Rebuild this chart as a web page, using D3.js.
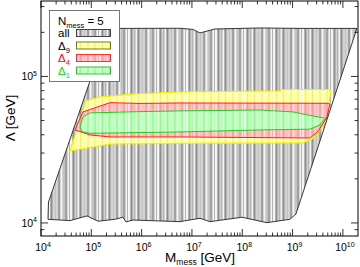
<!DOCTYPE html>
<html>
<head>
<meta charset="utf-8">
<script src="https://cdn.jsdelivr.net/npm/d3@7"></script>
<style>
  html, body { margin: 0; padding: 0; background: #fff; }
  svg { display: block; font-family: "Liberation Sans", Arial, sans-serif; }
</style>
</head>
<body>
<svg id="chart" width="360" height="267"></svg>
<script>
// Region boundaries as [log10(M_mess / GeV), log10(Lambda / GeV)].
const allRegion = [
  [5.321, 5.317], [5.570, 5.328], [6.762, 5.329], [7.020, 5.321], [7.159, 5.297],
  [7.457, 5.324], [8.351, 5.331], [9.146, 5.328], [10.279, 5.328],
  [9.067, 4.061], [8.947, 4.025], [8.490, 4.002], [7.994, 4.039], [7.358, 4.009],
  [7.159, 4.032], [6.762, 4.009], [6.166, 4.016], [5.828, 4.020], [5.689, 4.007],
  [5.629, 4.039], [5.470, 4.025], [5.133, 4.012], [4.914, 4.048], [4.576, 4.016],
  [4.139, 4.025], [4.149, 4.143]
];
const delta9Region = [
  [4.894, 4.833], [5.172, 4.860], [5.868, 4.881], [6.762, 4.894], [8.749, 4.901],
  [8.788, 4.911], [9.742, 4.911], [9.762, 4.894], [9.643, 4.696], [9.504, 4.614],
  [9.384, 4.573], [9.206, 4.546], [6.762, 4.543], [5.371, 4.539], [4.576, 4.491]
];
const delta4Region = [
  [4.676, 4.635], [4.834, 4.758], [5.371, 4.821], [5.967, 4.816], [6.762, 4.819],
  [9.683, 4.817], [9.742, 4.812], [9.683, 4.724], [9.504, 4.623], [9.345, 4.580],
  [6.762, 4.587], [5.371, 4.587], [4.974, 4.601]
];
const delta1Region = [
  [4.775, 4.655], [4.834, 4.724], [4.974, 4.751], [5.967, 4.760], [6.762, 4.765],
  [8.351, 4.771], [9.007, 4.758], [9.404, 4.730], [9.643, 4.715], [9.543, 4.669],
  [9.345, 4.640], [8.351, 4.635], [6.762, 4.621], [4.974, 4.612], [4.815, 4.623]
];

const xDecades = [4, 5, 6, 7, 8, 9, 10];
const yDecades = [4, 5];

const W = 360, H = 267;
const plot = { left: 41, right: 358, top: 1, bottom: 236 };

const x = d3.scaleLog().domain([1e4, 10 ** 10.3]).range([plot.left, plot.right]);
const y = d3.scaleLog().domain([10 ** 3.911, 10 ** 5.515]).range([plot.bottom, plot.top]);

const svg = d3.select('#chart');
const defs = svg.append('defs');

// vertical stripe fills, mimicking the rasterised strips of the original
const stripeW = 29;
const stripeLayout = [
  { dx: 0, w: 2, kind: 'light' }, { dx: 3, w: 1, kind: 'dark' },
  { dx: 5, w: 1, kind: 'mid' }, { dx: 7.5, w: 1.5, kind: 'light' },
  { dx: 10, w: 1, kind: 'dark' }, { dx: 12, w: 2.5, kind: 'mid' },
  { dx: 15.5, w: 1, kind: 'light' }, { dx: 17.5, w: 1, kind: 'dark' },
  { dx: 19.5, w: 2, kind: 'light' }, { dx: 22.5, w: 1, kind: 'mid' },
  { dx: 24.5, w: 1, kind: 'dark' }, { dx: 26.5, w: 1.5, kind: 'light' }
];
function stripePattern(id, base, light, mid, dark) {
  const p = defs.append('pattern')
    .attr('id', id)
    .attr('patternUnits', 'userSpaceOnUse')
    .attr('x', plot.left)
    .attr('width', stripeW).attr('height', 10);
  p.append('rect').attr('width', stripeW).attr('height', 10).attr('fill', base);
  const tone = { light, mid, dark };
  p.selectAll('rect.s')
    .data(stripeLayout)
    .join('rect')
    .attr('class', 's')
    .attr('x', d => d.dx).attr('y', 0)
    .attr('width', d => d.w).attr('height', 10)
    .attr('fill', d => tone[d.kind]);
}
stripePattern('pat-all', '#b4b4b4', '#f4f4f4', '#d2d2d2', '#8e8e8e');
stripePattern('pat-d9', '#ffff90', '#ffffe0', '#ffffb8', '#f2f266');
stripePattern('pat-d4', '#ffadad', '#ffe0e0', '#ffc8c8', '#ff9898');
stripePattern('pat-d1', '#adffad', '#e0ffe0', '#c8ffc8', '#96f896');

defs.append('clipPath').attr('id', 'clip')
  .append('rect')
  .attr('x', plot.left).attr('y', plot.top)
  .attr('width', plot.right - plot.left).attr('height', plot.bottom - plot.top);

const line = d3.line()
  .x(d => x(10 ** d[0]))
  .y(d => y(10 ** d[1]))
  .curve(d3.curveLinearClosed);

const regions = [
  { data: allRegion, fill: 'url(#pat-all)', stroke: '#222', sw: 0.9 },
  { data: delta9Region, fill: 'url(#pat-d9)', stroke: '#f0f000', sw: 1.2 },
  { data: delta4Region, fill: 'url(#pat-d4)', stroke: '#ff1a1a', sw: 1 },
  { data: delta1Region, fill: 'url(#pat-d1)', stroke: '#22cc22', sw: 1 }
];

svg.append('g')
  .attr('clip-path', 'url(#clip)')
  .selectAll('path')
  .data(regions)
  .join('path')
  .attr('d', d => line(d.data))
  .attr('fill', d => d.fill)
  .attr('stroke', d => d.stroke)
  .attr('stroke-width', d => d.sw)
  .attr('stroke-linejoin', 'round');

// legend
const legend = svg.append('g');
legend.append('rect')
  .attr('x', 49.5).attr('y', 10.5).attr('width', 70).attr('height', 71)
  .attr('fill', '#fff').attr('stroke', '#555').attr('stroke-width', 0.8);

const nText = legend.append('text').attr('x', 58).attr('y', 25)
  .attr('font-size', 11.5).attr('fill', '#000');
nText.append('tspan').text('N');
nText.append('tspan').attr('font-size', 7.5).attr('dy', 2.5).text('mess');
nText.append('tspan').attr('dy', -2.5).text(' = 5');

const legendItems = [
  { label: 'all', sub: '', color: '#000', fill: 'url(#pat-all)', stroke: '#333' },
  { label: '\u0394', sub: '9', color: '#000', fill: 'url(#pat-d9)', stroke: '#6b6b00' },
  { label: '\u0394', sub: '4', color: '#ff0000', fill: 'url(#pat-d4)', stroke: '#ff2020' },
  { label: '\u0394', sub: '1', color: '#00dd00', fill: 'url(#pat-d1)', stroke: '#22bb22' }
];
const rowY = d3.scalePoint().domain(d3.range(legendItems.length)).range([33, 70.5]);
legendItems.forEach((it, i) => {
  const cy = rowY(i);
  const t = legend.append('text').attr('x', 58).attr('y', cy + 4)
    .attr('font-size', 11.5).attr('fill', it.color);
  t.append('tspan').text(it.label);
  if (it.sub) t.append('tspan').attr('font-size', 7.5).attr('dy', 3).text(it.sub);
  legend.append('rect')
    .attr('x', 76.5).attr('y', cy - 3.5).attr('width', 34).attr('height', 7)
    .attr('fill', it.fill).attr('stroke', it.stroke).attr('stroke-width', 0.9);
});

// axes frame
svg.append('rect')
  .attr('x', plot.left).attr('y', plot.top)
  .attr('width', plot.right - plot.left).attr('height', plot.bottom - plot.top)
  .attr('fill', 'none').attr('stroke', '#000').attr('stroke-width', 1);

function logTicks(scale) {
  const [a, b] = scale.domain();
  const out = [];
  for (let e = Math.floor(Math.log10(a)); e <= Math.ceil(Math.log10(b)); e++) {
    for (let k = 1; k <= 9; k++) {
      const v = k * 10 ** e;
      if (v >= a * 0.999 && v <= b * 1.001) out.push({ v, major: k === 1 });
    }
  }
  return out;
}
const majorLen = 7, minorLen = 3.5;
const xt = logTicks(x), yt = logTicks(y);
const ticks = svg.append('g').attr('stroke', '#000').attr('stroke-width', 0.8);
ticks.selectAll('line.xb').data(xt).join('line').attr('class', 'xb')
  .attr('x1', d => x(d.v)).attr('x2', d => x(d.v))
  .attr('y1', plot.bottom).attr('y2', d => plot.bottom - (d.major ? majorLen : minorLen));
ticks.selectAll('line.xt').data(xt).join('line').attr('class', 'xt')
  .attr('x1', d => x(d.v)).attr('x2', d => x(d.v))
  .attr('y1', plot.top).attr('y2', d => plot.top + (d.major ? majorLen : minorLen));
ticks.selectAll('line.yl').data(yt).join('line').attr('class', 'yl')
  .attr('y1', d => y(d.v)).attr('y2', d => y(d.v))
  .attr('x1', plot.left).attr('x2', d => plot.left + (d.major ? majorLen : minorLen));
ticks.selectAll('line.yr').data(yt).join('line').attr('class', 'yr')
  .attr('y1', d => y(d.v)).attr('y2', d => y(d.v))
  .attr('x1', plot.right).attr('x2', d => plot.right - (d.major ? majorLen : minorLen));

// tick labels
svg.selectAll('text.xl').data(xDecades).join('text').attr('class', 'xl')
  .attr('x', d => x(10 ** d) + 2).attr('y', 251)
  .attr('text-anchor', 'middle').attr('font-size', 10.5)
  .each(function (d) {
    const t = d3.select(this);
    t.append('tspan').text('10');
    t.append('tspan').attr('font-size', 7).attr('dy', -4.5).text(d);
  });
svg.selectAll('text.yl').data(yDecades).join('text').attr('class', 'yl')
  .attr('x', 37).attr('y', d => y(10 ** d) + 4)
  .attr('text-anchor', 'end').attr('font-size', 10.5)
  .each(function (d) {
    const t = d3.select(this);
    t.append('tspan').text('10');
    t.append('tspan').attr('font-size', 7).attr('dy', -4.5).text(d);
  });

// axis titles
const xTitle = svg.append('text').attr('x', 200).attr('y', 262)
  .attr('text-anchor', 'middle').attr('font-size', 13.5);
xTitle.append('tspan').text('M');
xTitle.append('tspan').attr('font-size', 8.5).attr('dy', 3).text('mess');
xTitle.append('tspan').attr('dy', -3).text(' [GeV]');

svg.append('text')
  .attr('transform', 'translate(15,118) rotate(-90)')
  .attr('text-anchor', 'middle').attr('font-size', 13.5)
  .text('\u039B [GeV]');
</script>
</body>
</html>
